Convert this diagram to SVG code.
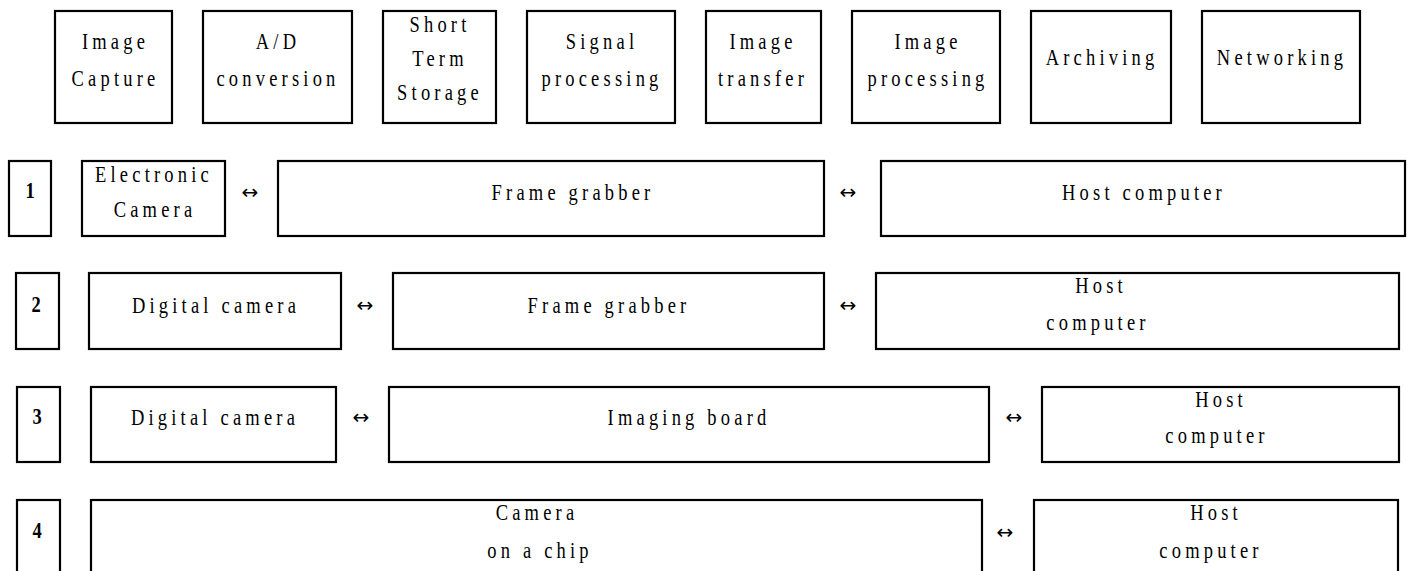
<svg xmlns="http://www.w3.org/2000/svg" width="1413" height="571" viewBox="0 0 1413 571">
  <style>
    .box { fill: #fff; stroke: #000; stroke-width: 2.2; }
    .t { font-family: "Liberation Serif", "Times New Roman", serif; font-size: 18.5px; letter-spacing: 4.2px; text-anchor: middle; fill: #000; }
    .n { font-family: "Liberation Serif", "Times New Roman", serif; font-size: 18.5px; font-weight: bold; text-anchor: middle; fill: #000; }
    .arr { font-family: "DejaVu Sans", sans-serif; font-size: 20px; text-anchor: middle; fill: #000; }
  </style>
  <rect width="1413" height="571" fill="#fff"/>

  <!-- Processing stages -->
  <g id="stage-capture">
    <rect class="box" x="55" y="11" width="117" height="112"/>
    <text class="t" transform="translate(115.5,49) scale(1,1.3)">Image</text>
    <text class="t" transform="translate(115.5,86) scale(1,1.3)">Capture</text>
  </g>
  <g id="stage-ad">
    <rect class="box" x="203" y="11" width="149" height="112"/>
    <text class="t" transform="translate(278,49) scale(1,1.3)">A/D</text>
    <text class="t" transform="translate(278,86) scale(1,1.3)">conversion</text>
  </g>
  <g id="stage-storage">
    <rect class="box" x="383" y="11" width="113" height="112"/>
    <text class="t" transform="translate(440,32) scale(1,1.3)">Short</text>
    <text class="t" transform="translate(440,66) scale(1,1.3)">Term</text>
    <text class="t" transform="translate(440,100) scale(1,1.3)">Storage</text>
  </g>
  <g id="stage-signal">
    <rect class="box" x="527" y="11" width="148" height="112"/>
    <text class="t" transform="translate(602,49) scale(1,1.3)">Signal</text>
    <text class="t" transform="translate(602,86) scale(1,1.3)">processing</text>
  </g>
  <g id="stage-transfer">
    <rect class="box" x="706" y="11" width="115" height="112"/>
    <text class="t" transform="translate(763,49) scale(1,1.3)">Image</text>
    <text class="t" transform="translate(763,86) scale(1,1.3)">transfer</text>
  </g>
  <g id="stage-imgproc">
    <rect class="box" x="852" y="11" width="148" height="112"/>
    <text class="t" transform="translate(928,49) scale(1,1.3)">Image</text>
    <text class="t" transform="translate(928,86) scale(1,1.3)">processing</text>
  </g>
  <g id="stage-archiving">
    <rect class="box" x="1031" y="11" width="140" height="112"/>
    <text class="t" transform="translate(1102,65) scale(1,1.3)">Archiving</text>
  </g>
  <g id="stage-networking">
    <rect class="box" x="1202" y="11" width="158" height="112"/>
    <text class="t" transform="translate(1282,65) scale(1,1.3)">Networking</text>
  </g>

  <!-- Configuration 1 -->
  <g id="cfg1-label">
    <rect class="box" x="9" y="161" width="42" height="75"/>
    <text class="n" transform="translate(30,198) scale(1,1.3)">1</text>
  </g>
  <g id="cfg1-camera">
    <rect class="box" x="82" y="161" width="143" height="75"/>
    <text class="t" transform="translate(154,182) scale(1,1.3)">Electronic</text>
    <text class="t" transform="translate(155,217) scale(1,1.3)">Camera</text>
  </g>
  <g id="cfg1-grabber">
    <rect class="box" x="278" y="161" width="546" height="75"/>
    <text class="t" transform="translate(573,200) scale(1,1.3)">Frame grabber</text>
  </g>
  <g id="cfg1-host">
    <rect class="box" x="881" y="161" width="524" height="75"/>
    <text class="t" transform="translate(1144,200) scale(1,1.3)">Host computer</text>
  </g>

  <!-- Configuration 2 -->
  <g id="cfg2-label">
    <rect class="box" x="16" y="273" width="43" height="76"/>
    <text class="n" transform="translate(36,312) scale(1,1.3)">2</text>
  </g>
  <g id="cfg2-camera">
    <rect class="box" x="89" y="273" width="252" height="76"/>
    <text class="t" transform="translate(216,313) scale(1,1.3)">Digital camera</text>
  </g>
  <g id="cfg2-grabber">
    <rect class="box" x="393" y="273" width="431" height="76"/>
    <text class="t" transform="translate(609,313) scale(1,1.3)">Frame grabber</text>
  </g>
  <g id="cfg2-host">
    <rect class="box" x="876" y="273" width="523" height="76"/>
    <text class="t" transform="translate(1101,293) scale(1,1.3)">Host</text>
    <text class="t" transform="translate(1098,330) scale(1,1.3)">computer</text>
  </g>

  <!-- Configuration 3 -->
  <g id="cfg3-label">
    <rect class="box" x="17" y="387" width="43" height="75"/>
    <text class="n" transform="translate(37,424) scale(1,1.3)">3</text>
  </g>
  <g id="cfg3-camera">
    <rect class="box" x="91" y="387" width="245" height="75"/>
    <text class="t" transform="translate(215,425) scale(1,1.3)">Digital camera</text>
  </g>
  <g id="cfg3-board">
    <rect class="box" x="389" y="387" width="600" height="75"/>
    <text class="t" transform="translate(689,425) scale(1,1.3)">Imaging board</text>
  </g>
  <g id="cfg3-host">
    <rect class="box" x="1042" y="387" width="357" height="75"/>
    <text class="t" transform="translate(1221,407) scale(1,1.3)">Host</text>
    <text class="t" transform="translate(1217,443) scale(1,1.3)">computer</text>
  </g>

  <!-- Configuration 4 -->
  <g id="cfg4-label">
    <rect class="box" x="17" y="500" width="43" height="90"/>
    <text class="n" transform="translate(37,538) scale(1,1.3)">4</text>
  </g>
  <g id="cfg4-chip">
    <rect class="box" x="91" y="500" width="891" height="90"/>
    <text class="t" transform="translate(537,520) scale(1,1.3)">Camera</text>
    <text class="t" transform="translate(540,558) scale(1,1.3)">on a chip</text>
  </g>
  <g id="cfg4-host">
    <rect class="box" x="1034" y="500" width="364" height="90"/>
    <text class="t" transform="translate(1216,520) scale(1,1.3)">Host</text>
    <text class="t" transform="translate(1211,558) scale(1,1.3)">computer</text>
  </g>

  <!-- Two-way links between stages -->
  <g id="connectors">
    <text class="arr" x="250" y="199">↔</text>
    <text class="arr" x="848" y="199">↔</text>
    <text class="arr" x="365" y="312">↔</text>
    <text class="arr" x="848" y="312">↔</text>
    <text class="arr" x="361" y="424">↔</text>
    <text class="arr" x="1014" y="424">↔</text>
    <text class="arr" x="1005" y="539">↔</text>
  </g>
</svg>
